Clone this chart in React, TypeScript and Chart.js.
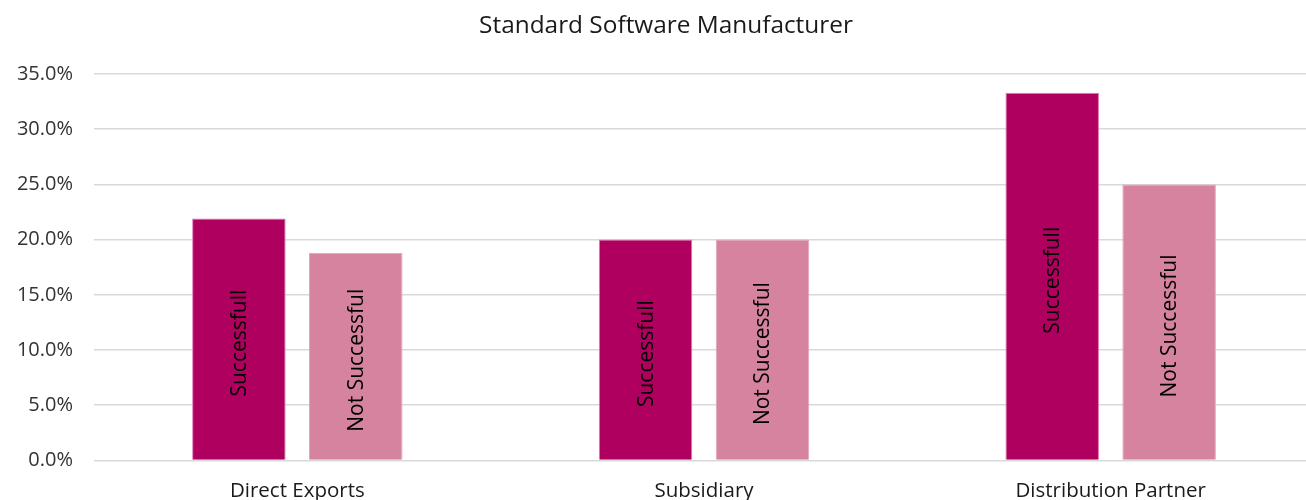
import React, { useEffect, useRef } from 'react';
import { Chart, registerables } from 'chart.js';

Chart.register(...registerables);

const title = 'Standard Software Manufacturer';
const categories = ['Direct Exports', 'Subsidiary', 'Distribution Partner'];
const seriesNames = ['Successfull', 'Not Successful'];
const successful = [21.9, 20.0, 33.3];
const notSuccessful = [18.8, 20.0, 25.0];
const yMin = 0;
const yMax = 35;
const yStep = 5;

const FONT = '"Open Sans", "Noto Sans", sans-serif';

const titlePlugin = {
  id: 'customTitle',
  afterDraw(chart: any) {
    const ctx = chart.ctx;
    ctx.save();
    ctx.font = `24.4px ${FONT}`;
    ctx.fillStyle = '#1a1a1a';
    ctx.textAlign = 'center';
    ctx.textBaseline = 'middle';
    ctx.fillText(title, 666, 26);
    ctx.restore();
  },
};

const barLabelPlugin = {
  id: 'barLabels',
  afterDatasetsDraw(chart: any) {
    const ctx = chart.ctx;
    chart.data.datasets.forEach((ds: any, i: number) => {
      const meta = chart.getDatasetMeta(i);
      meta.data.forEach((bar: any) => {
        const p = bar.getProps(['x', 'y', 'base'], true);
        ctx.save();
        ctx.translate(p.x + 1, (p.y + p.base) / 2 + 4);
        ctx.rotate(-Math.PI / 2);
        ctx.font = `21px ${FONT}`;
        ctx.fillStyle = '#000';
        ctx.textAlign = 'center';
        ctx.textBaseline = 'middle';
        ctx.fillText(ds.label, 0, 0);
        ctx.restore();
      });
    });
  },
};

export default function App() {
  const ref = useRef<HTMLCanvasElement>(null);
  useEffect(() => {
    const chart = new Chart(ref.current!, {
      type: 'bar',
      data: {
        labels: categories,
        datasets: [
          {
            label: seriesNames[0],
            data: successful,
            backgroundColor: '#B0005F',
            borderColor: '#E07DB4',
            borderWidth: 1,
            categoryPercentage: 0.575,
            barPercentage: 0.8,
          },
          {
            label: seriesNames[1],
            data: notSuccessful,
            backgroundColor: '#D5839F',
            borderColor: '#E3A3BC',
            borderWidth: 1,
            categoryPercentage: 0.575,
            barPercentage: 0.8,
          },
        ],
      },
      options: {
        responsive: false,
        animation: false,
        layout: { padding: { top: 74, left: 0, right: 0, bottom: 0 } },
        plugins: {
          legend: { display: false },
          title: { display: false },
          tooltip: { enabled: false },
        },
        scales: {
          x: {
            grid: { display: false },
            border: { display: false },
            ticks: { color: '#1a1a1a', font: { family: FONT, size: 20.5 }, padding: 10 },
          },
          y: {
            min: yMin,
            max: yMax,
            grid: { color: '#D9D9D9', lineWidth: 1.5, drawTicks: false },
            border: { display: false },
            afterFit: (scale: any) => {
              scale.width = 94;
            },
            ticks: {
              stepSize: yStep,
              color: '#333',
              font: { family: FONT, size: 20 },
              padding: 21,
              callback: (v: any) => Number(v).toFixed(1) + '%',
            },
          },
        },
      },
      plugins: [titlePlugin, barLabelPlugin],
    });
    return () => chart.destroy();
  }, []);
  return (
    <div style={{ position: 'absolute', left: 0, top: 0, width: 1306, height: 500, overflow: 'hidden', background: '#fff' }}>
      <canvas ref={ref} width={1314} height={513} style={{ width: 1314, height: 513, display: 'block' }} />
    </div>
  );
}
